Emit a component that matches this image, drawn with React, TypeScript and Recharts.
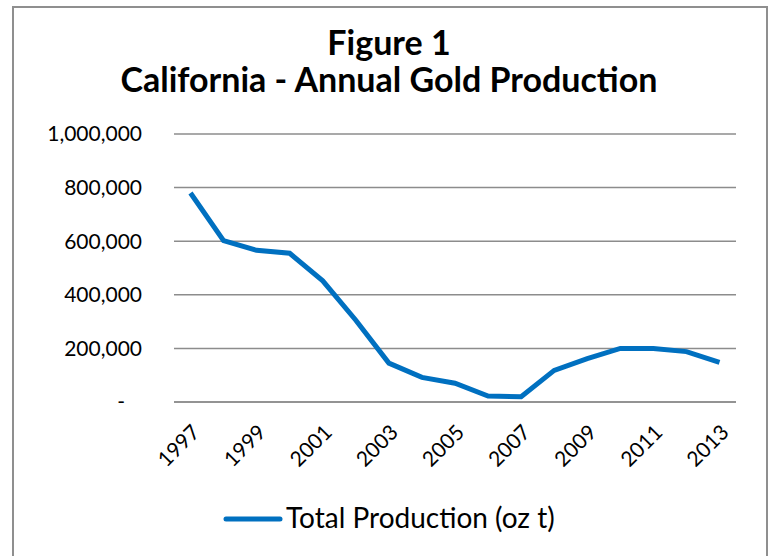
import { LineChart, Line, XAxis, YAxis, CartesianGrid } from "recharts";

const years = [
  "1997", "1998", "1999", "2000", "2001", "2002", "2003", "2004", "2005",
  "2006", "2007", "2008", "2009", "2010", "2011", "2012", "2013",
];
const production = [
  780000, 602000, 566000, 555000, 452000, 305000, 145000, 92000, 70000,
  22000, 20000, 118000, 162000, 200000, 200000, 188000, 148000,
];
const yTicks = [0, 200000, 400000, 600000, 800000, 1000000];

const data = years.map((year, i) => ({ year, total: production[i] }));

const FONT = "Lato, 'Open Sans', sans-serif";
const BLUE = "#0070C0";
const GRID = "#8c8c8c";

function YTick(props: any) {
  const { x, y, payload } = props;
  const v = payload.value as number;
  const label = v === 0 ? "-" : v.toLocaleString("en-US");
  return (
    <text
      x={v === 0 ? x - 17 : x}
      y={y}
      dy="0.35em"
      textAnchor="end"
      fontFamily={FONT}
      fontSize={21}
      fill="#000"
    >
      {label}
    </text>
  );
}

export default function App() {
  return (
    <div
      style={{
        position: "absolute",
        left: 0,
        top: 0,
        width: 768,
        height: 556,
        overflow: "hidden",
        background: "#fff",
        fontFamily: FONT,
      }}
    >
      <div
        style={{
          position: "absolute",
          left: 12,
          top: 6,
          width: 752,
          height: 600,
          border: "2px solid #8f8f8f",
        }}
      />
      <div
        style={{
          position: "absolute",
          left: 0,
          top: 23,
          width: 778,
          textAlign: "center",
          fontWeight: 700,
          fontSize: 34,
          lineHeight: "37px",
          color: "#000",
        }}
      >
        Figure 1
        <br />
        California - Annual Gold Production
      </div>
      <div style={{ position: "absolute", left: 0, top: 0 }}>
        <LineChart
          width={768}
          height={556}
          data={data}
          margin={{ top: 134, right: 32, bottom: 94, left: 0 }}
        >
          <CartesianGrid vertical={false} stroke={GRID} strokeWidth={1.5} />
          <XAxis
            dataKey="year"
            interval={1}
            height={60}
            padding={{ left: 16.5, right: 16.5 }}
            axisLine={{ stroke: GRID, strokeWidth: 1.5 }}
            tickLine={false}
            angle={-45}
            textAnchor="end"
            tickMargin={15}
            tick={{ fontFamily: FONT, fontSize: 21, fill: "#000" }}
          />
          <YAxis
            width={174}
            domain={[0, 1000000]}
            ticks={yTicks}
            axisLine={false}
            tickLine={false}
            tickMargin={26}
            tick={<YTick />}
          />
          <Line
            type="linear"
            dataKey="total"
            stroke={BLUE}
            strokeWidth={5}
            dot={false}
            isAnimationActive={false}
          />
        </LineChart>
      </div>
      <svg
        width={768}
        height={556}
        style={{ position: "absolute", left: 0, top: 0, pointerEvents: "none" }}
      >
        <line x1={226} y1={519} x2={280} y2={519} stroke={BLUE} strokeWidth={5} strokeLinecap="round" />
      </svg>
      <div
        style={{
          position: "absolute",
          left: 286,
          top: 503,
          fontSize: 28,
          lineHeight: "28px",
          color: "#000",
          whiteSpace: "nowrap",
        }}
      >
        Total Production (oz t)
      </div>
    </div>
  );
}
